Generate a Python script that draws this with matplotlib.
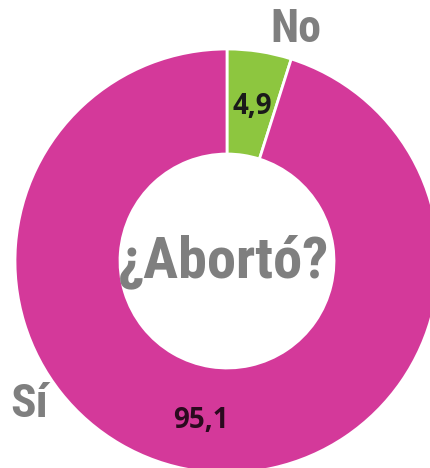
import matplotlib.pyplot as plt

# Data
categories = ["No", "Sí"]
values = [4.9, 95.1]
value_labels = ["4,9", "95,1"]
center_title = "¿Abortó?"

colors = ["#8DC63F", "#D4399A"]
gray = "#7F7F7F"
dark = "#1A1A1A"

W, H = 431, 468
fig = plt.figure(figsize=(W / 100, H / 100), dpi=100)
ax = fig.add_axes([0, 0, 1, 1])

cx, cy, r = 227, H - 261, 212
ax.pie(values, colors=colors, startangle=90, counterclock=False,
       center=(cx, cy), radius=r,
       wedgeprops=dict(width=105, edgecolor="white", linewidth=2))
ax.set_xlim(0, W)
ax.set_ylim(0, H)
ax.set_aspect("equal")
ax.axis("off")

narrow = ["Roboto Condensed", "DejaVu Sans"]
values_font = ["Open Sans", "DejaVu Sans"]

ax.text(cx - 3, H - 262, center_title, ha="center", va="center",
        fontsize=42, fontweight="bold", color=gray, family=narrow)
ax.text(296, H - 29, categories[0], ha="center", va="center",
        fontsize=33, fontweight="bold", color=gray, family=narrow)
ax.text(29, H - 404, categories[1], ha="center", va="center",
        fontsize=34, fontweight="bold", color=gray, family=narrow)

ax.text(252, H - 106, value_labels[0], ha="center", va="center",
        fontsize=20, fontweight="bold", color=dark, family=values_font)
ax.text(201, H - 421, value_labels[1], ha="center", va="center",
        fontsize=20, fontweight="bold", color="#2A0A1E", family=values_font)

fig.savefig("out.png", dpi=100, facecolor="white")
